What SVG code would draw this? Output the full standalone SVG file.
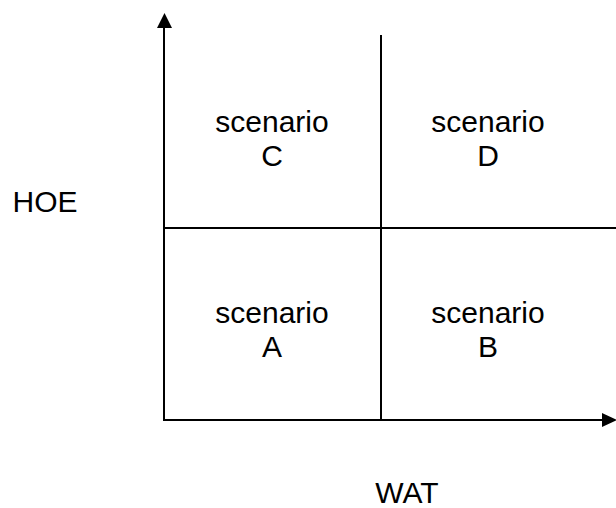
<svg xmlns="http://www.w3.org/2000/svg" width="616" height="508" viewBox="0 0 616 508">
<style>
.ln{stroke:#000;stroke-width:2;fill:none}
.t{font-family:"Liberation Sans",Arial,sans-serif;font-size:30px;fill:#000;text-anchor:middle}
</style>
<rect width="616" height="508" fill="#fff"/>
<g id="connectors">
<line class="ln" x1="164" y1="421" x2="164" y2="27"/>
<path d="M157,28 L164.5,13 L172,28 Z" fill="#000"/>
<line class="ln" x1="163" y1="420" x2="603" y2="420"/>
<path d="M602,413 L617,420 L602,427 Z" fill="#000"/>
<line class="ln" x1="381" y1="35" x2="381" y2="420"/>
<line class="ln" x1="164" y1="228" x2="616" y2="228"/>
</g>
<g id="scenarioC"><text class="t" x="272" y="132">scenario</text><text class="t" x="272" y="166">C</text></g>
<g id="scenarioD"><text class="t" x="488" y="132">scenario</text><text class="t" x="488" y="166">D</text></g>
<g id="scenarioA"><text class="t" x="272" y="323">scenario</text><text class="t" x="272" y="357">A</text></g>
<g id="scenarioB"><text class="t" x="488" y="323">scenario</text><text class="t" x="488" y="357">B</text></g>
<g id="hoe"><text class="t" x="45" y="212">HOE</text></g>
<g id="wat"><text class="t" x="407" y="503">WAT</text></g>
</svg>
